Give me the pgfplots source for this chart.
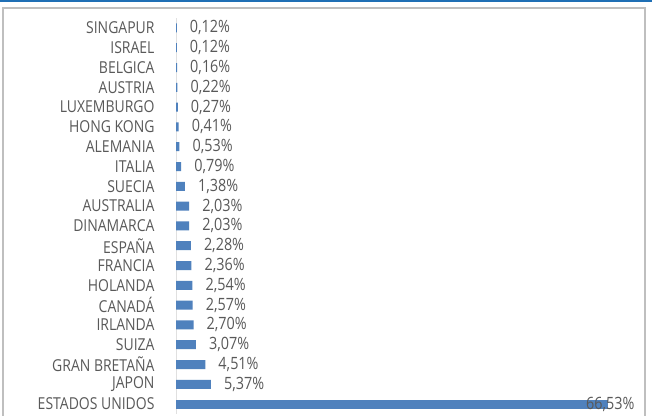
\documentclass[border=0pt]{standalone}
\usepackage{pgfplots}
\pgfplotsset{compat=1.18}
\usepackage{fontspec}
\setmainfont[FakeStretch=0.85]{Open Sans}
\definecolor{txt}{HTML}{595959}
\definecolor{barblue}{HTML}{4F81BD}
\definecolor{topblue}{HTML}{1F6FB5}
\begin{document}
\begin{tikzpicture}[x=1bp,y=1bp]
\useasboundingbox (0,0) rectangle (652,415);
\fill[white] (0,0) rectangle (652,415);
\draw[topblue,line width=2bp] (0,414) -- (652,414);
\draw[black!25,line width=1.2bp] (3,-2) -- (3,407) -- (645,407) -- (645,-2);
\begin{axis}[
  at={(176bp,1bp)}, anchor=south west,
  scale only axis, width=432bp, height=396bp,
  xmin=0, xmax=66.53, ymin=-0.5, ymax=19.5,
  y dir=reverse,
  xbar, bar width=9bp, bar shift=0pt,
  axis x line=none,
  axis y line*=left,
  y axis line style={black!12},
  major tick length=0pt,
  ytick={0,...,19},
  yticklabels={SINGAPUR,ISRAEL,BELGICA,AUSTRIA,LUXEMBURGO,HONG KONG,ALEMANIA,ITALIA,SUECIA,AUSTRALIA,DINAMARCA,ESPAÑA,FRANCIA,HOLANDA,CANADÁ,IRLANDA,SUIZA,GRAN BRETAÑA,JAPON,ESTADOS UNIDOS},
  yticklabel style={font=\fontsize{16.5}{17}\selectfont, text=txt, xshift=-18bp},
  /pgf/number format/assume math mode=true,
  nodes near coords={\pgfmathprintnumber[fixed,fixed zerofill,precision=2,use comma]{\pgfplotspointmeta}\%},
  point meta=x,
  clip=false,
]
\addplot[fill=barblue, draw=none,
  nodes near coords style={anchor=west, inner sep=0pt, xshift=13bp, font=\fontsize{17}{18}\selectfont, text=txt}]
coordinates {
(0.12,0) (0.12,1) (0.16,2) (0.22,3) (0.27,4) (0.41,5) (0.53,6) (0.79,7) (1.38,8) (2.03,9)
(2.03,10) (2.28,11) (2.36,12) (2.54,13) (2.57,14) (2.70,15) (3.07,16) (4.51,17) (5.37,18)
};
\addplot[fill=barblue, draw=none,
  nodes near coords style={anchor=west, inner sep=0pt, xshift=-22bp, font=\fontsize{17}{18}\selectfont, text=txt}]
coordinates {(66.53,19)};
\end{axis}
\end{tikzpicture}
\end{document}
